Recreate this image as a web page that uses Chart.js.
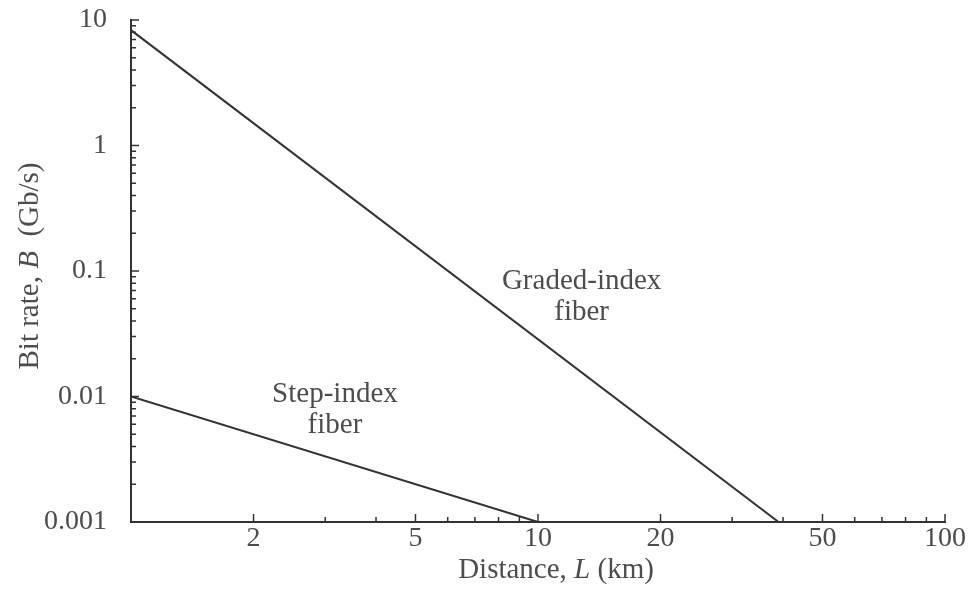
<!DOCTYPE html>
<html>
<head>
<meta charset="utf-8">
<script src="https://cdn.jsdelivr.net/npm/chart.js@4.4.1/dist/chart.umd.min.js"></script>
<style>
html,body{margin:0;padding:0;background:#fff;}
#wrap{width:973px;height:590px;}
</style>
</head>
<body>
<div id="wrap"><canvas id="c" width="973" height="590"></canvas></div>
<script>
// ---- data ----
const gradedDistance = [1, 39];
const gradedBitRate = [8.3, 0.001];
const stepDistance = [1, 10];
const stepBitRate = [0.01, 0.001];
const xMajorTicks = [2, 5, 10, 20, 50, 100];
const xMinorTicks = [3, 4, 6, 7, 8, 9, 30, 40, 60, 70, 80, 90];
const yMajorTicks = [0.001, 0.01, 0.1, 1, 10];
const yMinorTicks = [0.002,0.003,0.004,0.005,0.006,0.007,0.008,0.009,
  0.02,0.03,0.04,0.05,0.06,0.07,0.08,0.09,
  0.2,0.3,0.4,0.5,0.6,0.7,0.8,0.9,
  2,3,4,5,6,7,8,9];
const yTickLabels = ['0.001','0.01','0.1','1','10'];
const xTickLabels = ['2','5','10','20','50','100'];
const curveLabels = [
  {lines:['Graded-index','fiber'], x:12.8, y:0.083},
  {lines:['Step-index','fiber'], x:3.17, y:0.0103}
];
// axis titles: [text, italic?] pieces
const xTitle = [['Distance, ', false], ['L', true], [' (km)', false]];
const yTitle = [['Bit rate, ', false], ['B', true], ['  (Gb/s)', false]];

const TEXT = '#4d4d4d';
const LINE = '#333';
const FONT = '"Liberation Serif", "DejaVu Serif", serif';
const TITLE_SIZE = 29;

function drawPieces(ctx, pieces, cx, cy) {
  const fonts = pieces.map(p => (p[1] ? 'italic ' : '') + TITLE_SIZE + 'px ' + FONT);
  let total = 0;
  const widths = pieces.map((p, i) => { ctx.font = fonts[i]; const w = ctx.measureText(p[0]).width; total += w; return w; });
  let x = cx - total / 2;
  ctx.textAlign = 'left';
  ctx.textBaseline = 'middle';
  pieces.forEach((p, i) => { ctx.font = fonts[i]; ctx.fillText(p[0], x, cy); x += widths[i]; });
}

const innerTicks = {
  id: 'innerTicks',
  afterDraw(chart) {
    const ctx = chart.ctx, xs = chart.scales.x, ys = chart.scales.y;
    const x0 = xs.left, y0 = ys.bottom;
    ctx.save();
    ctx.strokeStyle = LINE;
    ctx.lineWidth = 1.5;
    ctx.beginPath();
    xMajorTicks.forEach(v => { const p = xs.getPixelForValue(v); ctx.moveTo(p, y0); ctx.lineTo(p, y0 - 8); });
    xMinorTicks.forEach(v => { const p = xs.getPixelForValue(v); ctx.moveTo(p, y0); ctx.lineTo(p, y0 - 5); });
    yMajorTicks.forEach(v => { const p = ys.getPixelForValue(v); ctx.moveTo(x0, p); ctx.lineTo(x0 + 8, p); });
    yMinorTicks.forEach(v => { const p = ys.getPixelForValue(v); ctx.moveTo(x0, p); ctx.lineTo(x0 + 5, p); });
    ctx.stroke();
    ctx.fillStyle = TEXT;
    // curve labels
    ctx.font = TITLE_SIZE + 'px ' + FONT;
    ctx.textAlign = 'center';
    ctx.textBaseline = 'middle';
    curveLabels.forEach(l => {
      const px = xs.getPixelForValue(l.x), py = ys.getPixelForValue(l.y);
      l.lines.forEach((t, i) => ctx.fillText(t, px, py + i * 31));
    });
    // axis titles
    drawPieces(ctx, xTitle, (xs.left + xs.right) / 2 + 18, 570);
    ctx.translate(30, (ys.top + ys.bottom) / 2 - 5);
    ctx.rotate(-Math.PI / 2);
    drawPieces(ctx, yTitle, 0, 0);
    ctx.restore();
  }
};

new Chart(document.getElementById('c'), {
  type: 'scatter',
  data: {
    datasets: [
      { label: 'Graded-index fiber', data: gradedDistance.map((x, i) => ({x, y: gradedBitRate[i]})),
        showLine: true, borderColor: LINE, borderWidth: 2, pointRadius: 0 },
      { label: 'Step-index fiber', data: stepDistance.map((x, i) => ({x, y: stepBitRate[i]})),
        showLine: true, borderColor: LINE, borderWidth: 2, pointRadius: 0 }
    ]
  },
  options: {
    responsive: false,
    animation: false,
    layout: { padding: { top: 20, right: 28, left: 0, bottom: 0 } },
    plugins: { legend: { display: false }, tooltip: { enabled: false } },
    scales: {
      x: {
        type: 'logarithmic', min: 1, max: 100,
        afterBuildTicks: s => { s.ticks = xMajorTicks.map(v => ({value: v})); },
        afterFit: s => { s.height = 68; s.paddingLeft = 0; s.paddingRight = 0; },
        ticks: { color: TEXT, font: { family: FONT, size: 28 }, padding: 0, maxRotation: 0, autoSkip: false,
          callback: v => { const i = xMajorTicks.indexOf(v); return i >= 0 ? xTickLabels[i] : ''; } },
        grid: { display: false, drawTicks: false },
        border: { display: true, color: LINE, width: 2 },
        title: { display: false }
      },
      y: {
        type: 'logarithmic', min: 0.001, max: 10,
        afterBuildTicks: s => { s.ticks = yMajorTicks.map(v => ({value: v})); },
        afterFit: s => { s.width = 131; s.paddingTop = 0; s.paddingBottom = 0; },
        ticks: { color: TEXT, font: { family: FONT, size: 28 }, padding: 24, autoSkip: false,
          callback: v => { const i = yMajorTicks.indexOf(v); return i >= 0 ? yTickLabels[i] : ''; } },
        grid: { display: false, drawTicks: false },
        border: { display: true, color: LINE, width: 2 },
        title: { display: false }
      }
    }
  },
  plugins: [innerTicks]
});
</script>
</body>
</html>
